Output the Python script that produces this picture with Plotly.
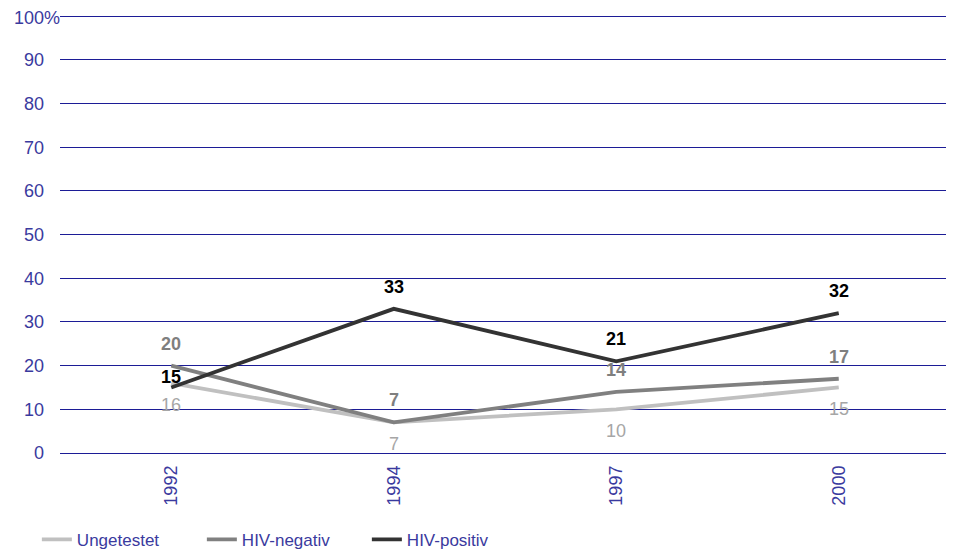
import plotly.graph_objects as go

years = ["1992", "1994", "1997", "2000"]
ungetestet = [16, 7, 10, 15]
hiv_negativ = [20, 7, 14, 17]
hiv_positiv = [15, 33, 21, 32]
y_ticks = [0, 10, 20, 30, 40, 50, 60, 70, 80, 90, 100]
y_tick_labels = ["0", "10", "20", "30", "40", "50", "60", "70", "80", "90", "100%"]

BLUE = "#3a3a9e"
GRID = "#1c1c96"
FONT = "Liberation Sans, Arial, sans-serif"

xpos = list(range(len(years)))

series = [
    ("Ungetestet", ungetestet, "#c0c0c0", "#a6a6a6", False, [-22, -22, -22, -22]),
    ("HIV-negativ", hiv_negativ, "#808080", "#7f7f7f", True, [22, 22, 22, 22]),
    ("HIV-positiv", hiv_positiv, "#333333", "#000000", True, [10, 22, 22, 22]),
]

fig = go.Figure()
annotations = []
for name, vals, lc, tc, bold, shifts in series:
    fig.add_trace(go.Scatter(
        x=xpos, y=vals, name=name, mode="lines",
        line=dict(color=lc, width=3.8),
    ))
    for xv, yv, s in zip(xpos, vals, shifts):
        annotations.append(dict(
            x=xv, y=yv, xref="x", yref="y", yshift=s,
            text=f"<b>{yv}</b>" if bold else str(yv),
            showarrow=False,
            font=dict(family=FONT, size=18, color=tc),
        ))

# top tick label ("100%") sits flush against the plot edge, as in the original
axis_ticktext = y_tick_labels[:-1] + [""]
annotations.append(dict(
    x=0, xref="paper", xanchor="right", y=y_ticks[-1], yref="y",
    yanchor="middle", yshift=-2, text=y_tick_labels[-1], showarrow=False,
    xshift=1, borderpad=0,
    font=dict(family=FONT, size=18, color=BLUE),
))

fig.update_layout(
    width=946, height=543,
    margin=dict(l=52, r=4, t=6, b=98, autoexpand=False),
    plot_bgcolor="white", paper_bgcolor="white",
    font=dict(family=FONT, size=18, color=BLUE),
    showlegend=True,
    legend=dict(orientation="h", x=-0.026, xanchor="left",
                y=-0.198, yanchor="middle",
                font=dict(family=FONT, size=17, color=BLUE),
                itemwidth=30, tracegroupgap=0,
                entrywidth=120, entrywidthmode="pixels"),
    annotations=annotations,
)
fig.update_xaxes(
    range=[-0.5, 3.5], tickvals=xpos, ticktext=years, tickangle=-90,
    showgrid=False, showline=False, zeroline=False, automargin=False,
    tickfont=dict(family=FONT, size=18, color=BLUE),
    ticks="", ticklabelstandoff=8,
)
fig.update_yaxes(
    range=[0, 100.5], tickvals=y_ticks, ticktext=axis_ticktext,
    showgrid=True, gridcolor=GRID, gridwidth=1,
    zeroline=True, zerolinecolor=GRID, zerolinewidth=1,
    showline=False, ticks="", automargin=False,
    tickfont=dict(family=FONT, size=18, color=BLUE),
    ticklabelstandoff=15,
)

fig.write_html("out.html")
